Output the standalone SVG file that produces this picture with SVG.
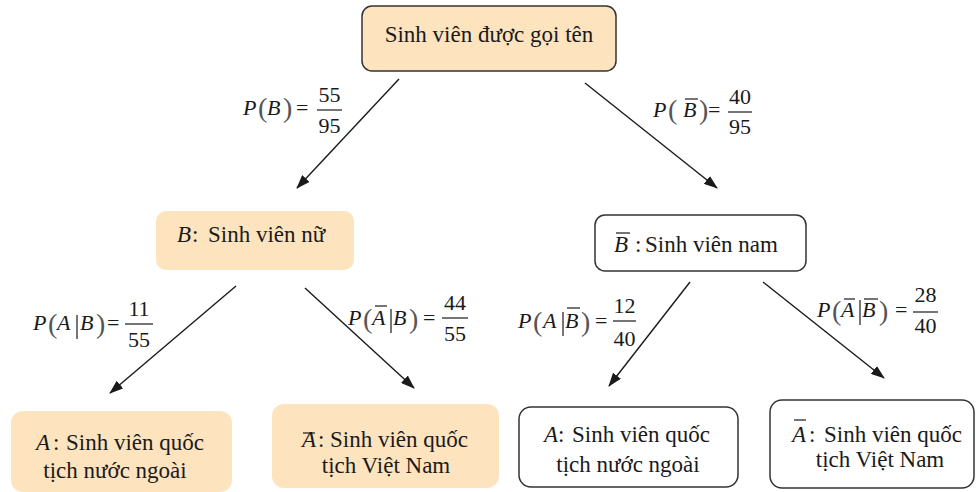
<svg xmlns="http://www.w3.org/2000/svg" width="977" height="492" viewBox="0 0 977 492">
<defs>
<style>
.t{font-family:'Liberation Serif','Tinos','Noto Serif','DejaVu Serif',serif;font-size:23px;fill:#1a1a1a}
.m{font-family:'Liberation Serif','Tinos','Noto Serif','DejaVu Serif',serif;font-size:22px;fill:#1a1a1a}
.i{font-style:italic}
.p{font-family:'Liberation Serif','Tinos','Noto Serif','DejaVu Serif',serif;font-size:28px;fill:#555}
.ln{stroke:#1a1a1a;stroke-width:1.2;fill:none}
.conn line{stroke:#1a1a1a;stroke-width:1.4}
.fill{fill:#FDE4BF}
.box{fill:#fff;stroke:#333;stroke-width:1.5}
</style>
<marker id="ah" markerWidth="14" markerHeight="10" refX="13" refY="5" orient="auto" markerUnits="userSpaceOnUse"><path d="M0,0 L14,5 L0,10 z" fill="#1a1a1a"/></marker>
</defs>
<rect width="977" height="492" fill="#fff"/>

<g id="root">
<rect x="362" y="6" width="254" height="65" rx="10" class="fill" stroke="#333" stroke-width="1.5"/>
<text class="t" x="489" y="42" text-anchor="middle">Sinh viên được gọi tên</text>
</g>

<g id="nodeB">
<rect x="156" y="211" width="198" height="59" rx="10" class="fill"/>
<text class="t" y="242"><tspan class="i" x="177">B</tspan><tspan x="192">:</tspan><tspan x="208">Sinh viên nữ</tspan></text>
</g>

<g id="nodeBbar">
<rect x="595" y="215" width="211" height="56" rx="10" class="box"/>
<text class="t" y="252"><tspan class="i" x="614">B</tspan><tspan x="635">:</tspan><tspan x="645">Sinh viên nam</tspan></text>
<line class="ln" x1="616" y1="233" x2="630" y2="233"/>
</g>

<g id="leaf1">
<rect x="11" y="411" width="221" height="81" rx="12" class="fill"/>
<text class="t" y="450"><tspan class="i" x="36">A</tspan><tspan x="53">:</tspan><tspan x="66">Sinh viên quốc</tspan></text>
<text class="t" x="115" y="478" text-anchor="middle">tịch nước ngoài</text>
</g>

<g id="leaf2">
<rect x="272" y="404" width="227" height="84" rx="12" class="fill"/>
<text class="t" y="447"><tspan class="i" x="302">A</tspan><tspan x="318">:</tspan><tspan x="330">Sinh viên quốc</tspan></text>
<line class="ln" x1="303" y1="433" x2="315" y2="433"/>
<text class="t" x="386" y="473" text-anchor="middle">tịch Việt Nam</text>
</g>

<g id="leaf3">
<rect x="519" y="407" width="219" height="80" rx="12" class="box"/>
<text class="t" y="442"><tspan class="i" x="544">A</tspan><tspan x="558">:</tspan><tspan x="572">Sinh viên quốc</tspan></text>
<text class="t" x="628" y="472" text-anchor="middle">tịch nước ngoài</text>
</g>

<g id="leaf4">
<rect x="770" y="400" width="204" height="88" rx="12" class="box"/>
<text class="t" y="442"><tspan class="i" x="792">A</tspan><tspan x="809">:</tspan><tspan x="824">Sinh viên quốc</tspan></text>
<line class="ln" x1="794" y1="420" x2="806" y2="420"/>
<text class="t" x="880" y="467" text-anchor="middle">tịch Việt Nam</text>
</g>

<g class="conn" id="connectors">
<line x1="399" y1="79" x2="297" y2="188" marker-end="url(#ah)"/>
<line x1="585" y1="83" x2="717" y2="188" marker-end="url(#ah)"/>
<line x1="236" y1="286" x2="110" y2="393" marker-end="url(#ah)"/>
<line x1="305" y1="288" x2="414" y2="388" marker-end="url(#ah)"/>
<line x1="690" y1="282" x2="609" y2="386" marker-end="url(#ah)"/>
<line x1="763" y1="282" x2="884" y2="378" marker-end="url(#ah)"/>
</g>

<g id="label1">
<text class="m i" x="243" y="115">P</text>
<text class="p" x="258" y="117">(</text>
<text class="m i" x="267" y="115">B</text>
<text class="p" x="283" y="117">)</text>
<text class="m" x="296" y="115">=</text>
<line class="ln" x1="317" y1="110" x2="342" y2="110"/>
<text class="m" x="329.5" y="102" text-anchor="middle">55</text>
<text class="m" x="329.5" y="133" text-anchor="middle">95</text>
</g>

<g id="label2">
<text class="m i" x="653" y="117">P</text>
<text class="p" x="668" y="119">(</text>
<text class="m i" x="683" y="117">B</text>
<line class="ln" x1="685" y1="99" x2="698" y2="99"/>
<text class="p" x="699" y="119">)</text>
<text class="m" x="708" y="117">=</text>
<line class="ln" x1="728" y1="112" x2="752" y2="112"/>
<text class="m" x="740" y="104" text-anchor="middle">40</text>
<text class="m" x="740" y="134" text-anchor="middle">95</text>
</g>

<g id="label3">
<text class="m i" x="33" y="330">P</text>
<text class="p" x="48" y="333">(</text>
<text class="m i" x="57" y="330">A</text>
<line class="ln" x1="77" y1="315" x2="77" y2="339"/>
<text class="m i" x="80" y="330">B</text>
<text class="p" x="96" y="333">)</text>
<text class="m" x="107" y="330">=</text>
<line class="ln" x1="125" y1="324" x2="153" y2="324"/>
<text class="m" x="139" y="316" text-anchor="middle">11</text>
<text class="m" x="139" y="347" text-anchor="middle">55</text>
</g>

<g id="label4">
<text class="m i" x="348" y="325">P</text>
<text class="p" x="363" y="328">(</text>
<text class="m i" x="372" y="325">A</text>
<line class="ln" x1="375" y1="306" x2="387" y2="306"/>
<line class="ln" x1="391" y1="309" x2="391" y2="333"/>
<text class="m i" x="393" y="325">B</text>
<text class="p" x="409" y="328">)</text>
<text class="m" x="423" y="325">=</text>
<line class="ln" x1="442" y1="318" x2="468" y2="318"/>
<text class="m" x="455" y="310" text-anchor="middle">44</text>
<text class="m" x="455" y="341" text-anchor="middle">55</text>
</g>

<g id="label5">
<text class="m i" x="518" y="328">P</text>
<text class="p" x="533" y="331">(</text>
<text class="m i" x="543" y="328">A</text>
<line class="ln" x1="563" y1="312" x2="563" y2="336"/>
<text class="m i" x="565" y="328">B</text>
<line class="ln" x1="567" y1="308" x2="580" y2="308"/>
<text class="p" x="581" y="331">)</text>
<text class="m" x="595" y="328">=</text>
<line class="ln" x1="613" y1="321" x2="636" y2="321"/>
<text class="m" x="624.5" y="313" text-anchor="middle">12</text>
<text class="m" x="624.5" y="346" text-anchor="middle">40</text>
</g>

<g id="label6">
<text class="m i" x="817" y="317">P</text>
<text class="p" x="832" y="320">(</text>
<text class="m i" x="841" y="317">A</text>
<line class="ln" x1="844" y1="299" x2="855" y2="299"/>
<line class="ln" x1="860" y1="300" x2="860" y2="325"/>
<text class="m i" x="862" y="317">B</text>
<line class="ln" x1="864" y1="299" x2="878" y2="299"/>
<text class="p" x="879" y="320">)</text>
<text class="m" x="895" y="317">=</text>
<line class="ln" x1="913" y1="312" x2="938" y2="312"/>
<text class="m" x="925.5" y="302" text-anchor="middle">28</text>
<text class="m" x="925.5" y="333" text-anchor="middle">40</text>
</g>
</svg>
